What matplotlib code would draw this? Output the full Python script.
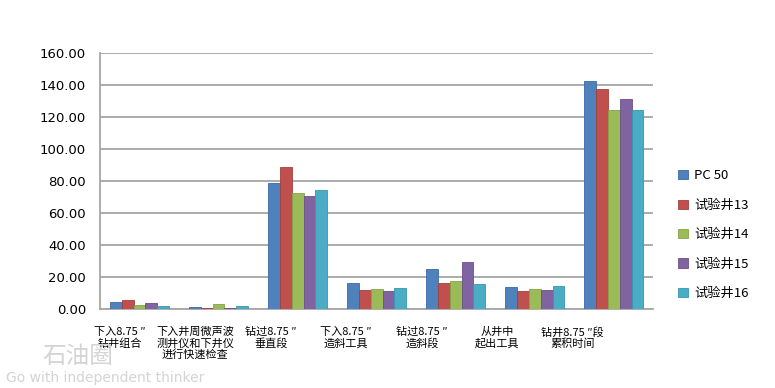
import matplotlib
matplotlib.use("Agg")
import matplotlib.pyplot as plt
import numpy as np

plt.rcParams['font.family'] = ['Noto Sans CJK SC', 'DejaVu Sans']

categories = ['下入8.75 ″\n钻井组合',
              '下入井周微声波\n测井仪和下井仪\n进行快速检查',
              '钻过8.75 ″\n垂直段',
              '下入8.75 ″\n造斜工具',
              '钻过8.75 ″\n造斜段',
              '从井中\n起出工具',
              '钻井8.75 ″段\n累积时间']
series_names = ['PC 50', '试验井13', '试验井14', '试验井15', '试验井16']
pc50 = [4.8, 1.5, 78.9, 16.6, 25.0, 13.8, 142.5]
well13 = [5.9, 0.7, 88.8, 11.8, 16.3, 11.3, 137.7]
well14 = [2.9, 3.2, 72.6, 12.6, 17.9, 12.9, 124.4]
well15 = [4.2, 0.7, 70.7, 11.7, 29.6, 11.9, 131.1]
well16 = [1.9, 1.9, 74.5, 13.2, 16.0, 14.4, 124.4]
values = [pc50, well13, well14, well15, well16]
colors = ['#4F81BD', '#C0504D', '#9BBB59', '#8064A2', '#4BACC6']
edges = ['#3A6AA6', '#A43E3B', '#84A445', '#6A4F8B', '#3796AF']

fig = plt.figure(figsize=(7.75, 3.88), dpi=100)
ax = fig.add_axes([0.129, 0.2026, 0.714, 0.661])

x = np.arange(len(categories))
w = 0.15
for i, (name, vals) in enumerate(zip(series_names, values)):
    ax.bar(x + (i - 2) * w, vals, w, color=colors[i], edgecolor=edges[i],
           linewidth=0.6, label=name, zorder=3)

ax.set_xlim(-0.5, 6.5)
ax.set_ylim(0, 160)
ax.set_yticks(np.arange(0, 161, 20))
ax.set_yticklabels(['%.2f' % v for v in np.arange(0, 161, 20)], fontsize=9.5,
                   family=['DejaVu Sans'])
ax.grid(axis='y', color='#a6a6a6', linewidth=1.3, zorder=0)
ax.tick_params(axis='y', length=0, pad=10)
ax.tick_params(axis='x', length=0)
ax.set_xticks([])
for s in ['top', 'right']:
    ax.spines[s].set_visible(False)
for s in ['left', 'bottom']:
    ax.spines[s].set_color('#a6a6a6')
    ax.spines[s].set_linewidth(1.3)

# category labels sit a little left of each group, drifting further right to left
for i, lab in enumerate(categories):
    ax.text(x[i] - 0.25 - 0.045 * i, -11, lab, ha='center', va='top',
            fontsize=8, linespacing=1.1)

leg = fig.legend(loc='center left', bbox_to_anchor=(0.86, 0.395), frameon=False,
                 handlelength=0.7, handleheight=0.7, handletextpad=0.5,
                 labelspacing=1.25, fontsize=9.5)

# watermark
fig.text(0.055, 0.065, '石油圈', fontsize=17, color='#d4d4d4')
fig.text(0.008, 0.015, 'Go with independent thinker', fontsize=10, color='#d4d4d4',
         family=['DejaVu Sans'])

fig.savefig('out.png', dpi=100)
